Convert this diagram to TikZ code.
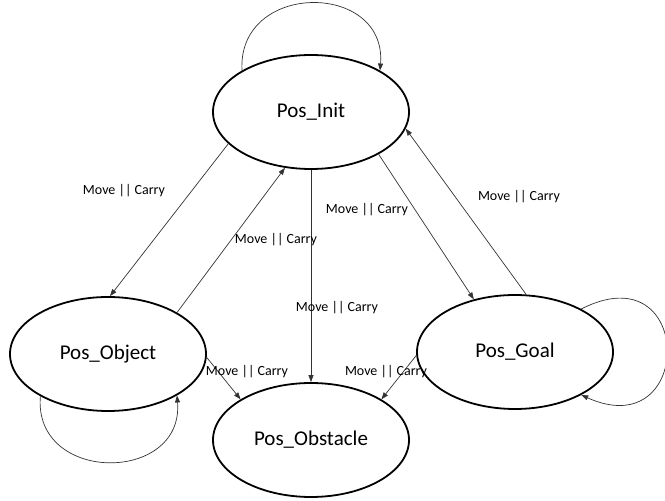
\documentclass[tikz,border=0pt]{standalone}
\usepackage{fontspec}
\setmainfont{Carlito}
\usetikzlibrary{shapes.geometric,arrows.meta}

\begin{document}
\begin{tikzpicture}[x=1pt,y=1pt,
  state/.style={ellipse,draw=black,line width=1.8pt,minimum width=196pt,
    minimum height=114pt,inner sep=0pt,font=\fontsize{21}{24}\selectfont},
  trans/.style={draw=black!80,line width=0.7pt,
    -{Triangle[length=7pt,width=5pt]}},
  lbl/.style={font=\fontsize{14}{16}\selectfont,inner sep=0pt}]
\useasboundingbox (0,0) rectangle (665,501);

% states
\node[state] (init) at (311,389) {Pos\_Init};
\node[state] (obj)  at (108,147) {Pos\_Object};
\node[state] (obs)  at (311,61)  {Pos\_Obstacle};
\node[state] (goal) at (515,149) {Pos\_Goal};

% transitions between states
\draw[trans] (init.201) -- (obj.88);
\draw[trans] (obj.31) -- (init.245);
\draw[trans] (init.270) -- (obs.90);
\draw[trans] (init.328) -- (goal.128);
\draw[trans] (goal.79) -- (init.350);
\draw[trans] (obj.358) -- (obs.150);
\draw[trans] (goal.182) -- (obs.30);

% self loops
\draw[trans] (init.149) .. controls (237,520) and (387,520) .. (init.31);
\draw[trans] (obj.212) .. controls (33,17) and (184,17) .. (obj.329);
\draw[trans] (goal.33) .. controls (695,250) and (695,55) .. (goal.327);

% transition labels
\node[lbl] (l1) at (124,310) {Move || Carry};
\node[lbl] (l2) at (276,261) {Move || Carry};
\node[lbl] (l3) at (337,193) {Move || Carry};
\node[lbl] (l4) at (367,291) {Move || Carry};
\node[lbl] (l5) at (519,304) {Move || Carry};
\node[lbl] (l6) at (247,129) {Move || Carry};
\node[lbl] (l7) at (386,129) {Move || Carry};
\end{tikzpicture}
\end{document}
